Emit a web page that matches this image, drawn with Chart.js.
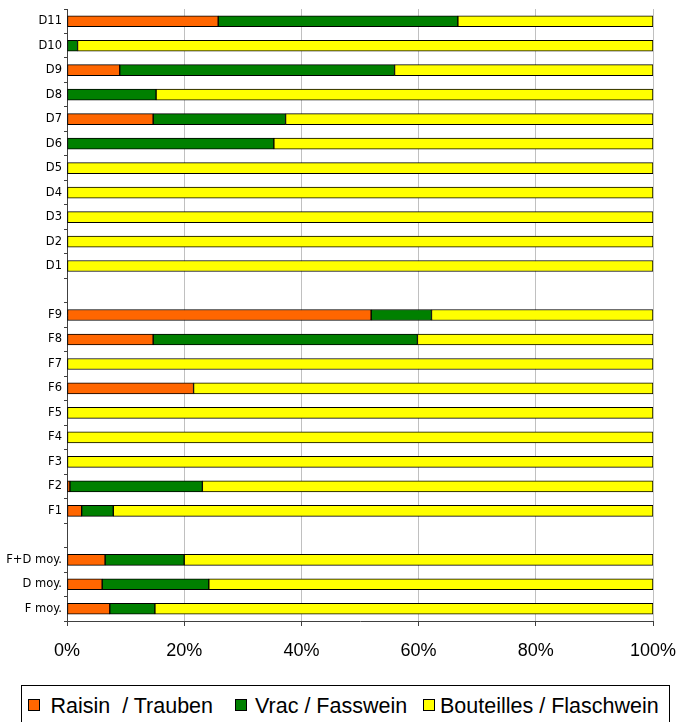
<!DOCTYPE html>
<html>
<head>
<meta charset="utf-8">
<script src="https://cdn.jsdelivr.net/npm/chart.js@4.4.0/dist/chart.umd.min.js"></script>
<style>
  html, body { margin: 0; padding: 0; background: #fff; overflow: hidden; }
  #wrap { position: relative; width: 676px; height: 722px; }
  #chart { position: absolute; left: 0; top: 0; }
  #legend {
    position: absolute; left: 21px; top: 685px; width: 649px; height: 50px;
    box-sizing: border-box; border: 1px solid #000;
    font-family: "Liberation Sans", Arial, sans-serif; font-size: 21.5px; color: #000;
    white-space: pre;
  }
  .swatch { position: absolute; top: 13px; width: 10px; height: 10px; border: 1px solid #000; }
  .label { position: absolute; top: 8px; line-height: 24px; }
</style>
</head>
<body>
<div id="wrap">
  <canvas id="chart" width="676" height="680"></canvas>
  <div id="legend"></div>
</div>
<script>
// categories top to bottom, '' = spacer rows
const categories = ['D11', 'D10', 'D9', 'D8', 'D7', 'D6', 'D5', 'D4', 'D3', 'D2', 'D1', '',
  'F9', 'F8', 'F7', 'F6', 'F5', 'F4', 'F3', 'F2', 'F1', '',
  'F+D moy.', 'D moy.', 'F moy.'];

// shares in %
const raisin = [25.8, 0, 9.0, 0, 14.7, 0, 0, 0, 0, 0, 0, null,
  51.9, 14.7, 0, 21.6, 0, 0, 0, 0.5, 2.5, null,
  6.5, 6.0, 7.3];
const vrac = [40.9, 1.8, 46.9, 15.2, 22.6, 35.3, 0, 0, 0, 0, 0, null,
  10.3, 45.1, 0, 0, 0, 0, 0, 22.6, 5.4, null,
  13.5, 18.2, 7.7];
const bouteilles = [33.3, 98.2, 44.1, 84.8, 62.7, 64.7, 100, 100, 100, 100, 100, null,
  37.8, 40.2, 100, 78.4, 100, 100, 100, 76.9, 92.1, null,
  80.0, 75.8, 85.0];

const seriesNames = ['Raisin  / Trauben', 'Vrac / Fasswein', 'Bouteilles / Flaschwein'];
const seriesColors = ['#FF6600', '#008000', '#FFFF00'];
const xTicks = [0, 20, 40, 60, 80, 100];

const axisColor = '#404040';

const datasets = [raisin, vrac, bouteilles].map((data, i) => ({
  label: seriesNames[i],
  data: data,
  backgroundColor: seriesColors[i],
  borderColor: '#000',
  borderWidth: 1,
  borderSkipped: false,
  barThickness: 11,
}));

new Chart(document.getElementById('chart').getContext('2d'), {
  type: 'bar',
  data: { labels: categories, datasets: datasets },
  options: {
    indexAxis: 'y',
    responsive: false,
    animation: false,
    events: [],
    layout: { padding: { top: 9, right: 23, left: 0, bottom: 0 } },
    plugins: {
      legend: { display: false },
      tooltip: { enabled: false },
    },
    scales: {
      x: {
        stacked: true,
        min: xTicks[0],
        max: xTicks[xTicks.length - 1],
        afterBuildTicks: (s) => { s.ticks = xTicks.map((v) => ({ value: v })); },
        ticks: {
          callback: (v) => v + '%',
          color: '#000',
          font: { family: '"Liberation Sans", Arial, sans-serif', size: 18 },
          padding: 14,
          maxRotation: 0,
        },
        grid: { color: '#c0c0c0', tickColor: axisColor, tickLength: 5 },
        border: { color: axisColor },
        afterFit: (s) => {
          s.height = 59;
          // keep the plot edge fixed, the 100% label may overhang
          s.paddingLeft = 0;
          s.paddingRight = 0;
        },
      },
      y: {
        stacked: true,
        ticks: {
          color: '#000',
          font: { family: '"DejaVu Sans", Verdana, sans-serif', size: 11.5 },
          padding: 2,
          autoSkip: false,
        },
        grid: { drawOnChartArea: false, offset: true, tickLength: 3, tickColor: axisColor },
        border: { color: axisColor },
        afterFit: (s) => { s.width = 67; },
      },
    },
  },
});

// legend in a framed box under the chart
const legend = document.getElementById('legend');
const swatchLeft = [6, 213, 401];
const textGap = [10.5, 8, 5];
seriesNames.forEach((name, i) => {
  const sw = document.createElement('span');
  sw.className = 'swatch';
  sw.style.left = swatchLeft[i] + 'px';
  sw.style.background = seriesColors[i];
  const txt = document.createElement('span');
  txt.className = 'label';
  txt.style.left = (swatchLeft[i] + 12 + textGap[i]) + 'px';
  txt.textContent = name;
  legend.appendChild(sw);
  legend.appendChild(txt);
});
</script>
</body>
</html>
